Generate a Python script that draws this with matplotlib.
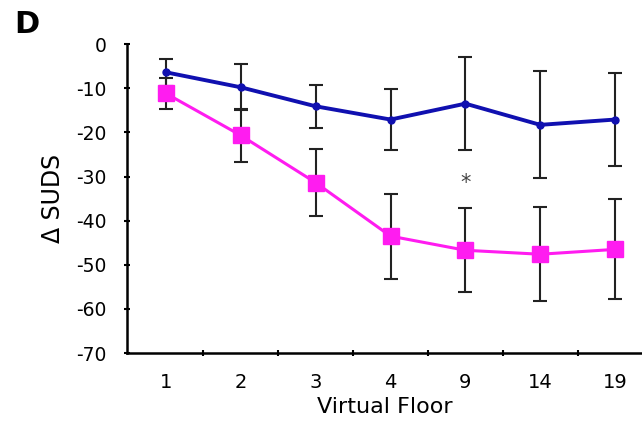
import numpy as np
import matplotlib
matplotlib.use("Agg")
import matplotlib.pyplot as plt

plt.rcParams['axes.unicode_minus'] = False

floors = ["1", "2", "3", "4", "9", "14", "19"]

# blue group (mean change, error)
blue_mean = [-6.4, -9.8, -14.1, -17.1, -13.5, -18.3, -17.1]
blue_err = [3.0, 5.2, 4.9, 7.0, 10.5, 12.1, 10.6]

# magenta group
pink_mean = [-11.2, -20.7, -31.4, -43.5, -46.7, -47.6, -46.5]
pink_err = [3.4, 6.1, 7.6, 9.6, 9.5, 10.7, 11.3]

star_pos = 4
star_y = -31.4

fig = plt.figure(figsize=(6.42, 4.36), dpi=100)
ax = fig.add_axes([0.198, 0.19, 0.802, 0.709])

x = np.arange(len(floors))

ax.errorbar(x, pink_mean, yerr=pink_err, fmt='none', ecolor='#222222',
            elinewidth=1.5, capsize=5, capthick=1.5, zorder=2)
ax.errorbar(x, blue_mean, yerr=blue_err, fmt='none', ecolor='#222222',
            elinewidth=1.5, capsize=5, capthick=1.5, zorder=2)
ax.plot(x, blue_mean, color='#1010b0', lw=2.8, marker='o', ms=5, zorder=3)
ax.plot(x, pink_mean, color='#ff1cf0', lw=2.2, marker='s', ms=11, zorder=4)

ax.text(star_pos, star_y, "*", ha='center', va='center', fontsize=15, color='#444444')

ax.set_ylim(-70, 0)
ax.set_xlim(-0.52, 6.36)
ax.set_yticks(range(-70, 1, 10))
ax.set_xticks(x)
ax.set_xticklabels(floors)
ax.set_xticks(x[:-1] + 0.5, minor=True)
ax.tick_params(axis='x', which='major', length=0, pad=14, labelsize=14)
ax.tick_params(axis='x', which='minor', length=5, width=1.5, direction='inout')
ax.tick_params(axis='y', length=5, width=1.5, direction='inout', labelsize=13.5, pad=12)

for s in ['top', 'right']:
    ax.spines[s].set_visible(False)
for s in ['left', 'bottom']:
    ax.spines[s].set_linewidth(1.8)

ax.set_xlabel("Virtual Floor", fontsize=16, labelpad=4)
ax.set_ylabel("Δ SUDS", fontsize=17, labelpad=8)

fig.text(0.022, 0.925, "D", fontsize=22, fontweight='bold')

fig.savefig("out.png", dpi=100)
